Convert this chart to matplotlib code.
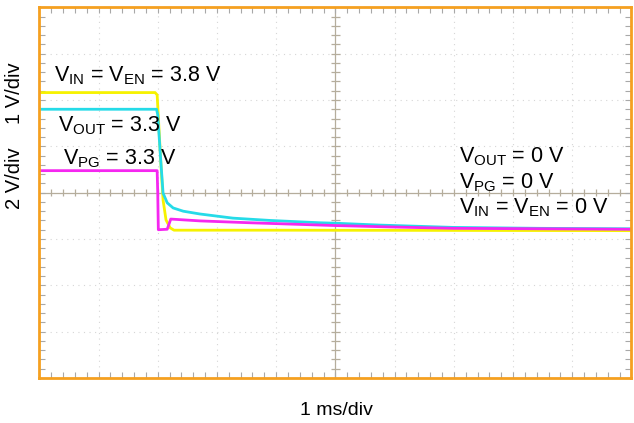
import numpy as np
import matplotlib
matplotlib.use('Agg')
import matplotlib.pyplot as plt

plt.rcParams['font.family'] = ['Liberation Sans', 'DejaVu Sans']
plt.rcParams['mathtext.fontset'] = 'custom'
plt.rcParams['mathtext.rm'] = 'Liberation Sans'
plt.rcParams['mathtext.default'] = 'regular'

# scope traces in divisions (x: 1 ms/div, y: centre = 0)
t_in = [0.0, 1.955, 1.99, 2.05, 2.09, 2.14, 2.21, 2.275, 4.0, 10.0]
v_in = [2.16, 2.16, 2.11, 0.70, -0.16, -0.59, -0.76, -0.81, -0.81, -0.82]

t_out = [0.0, 1.98, 2.0, 2.05, 2.09, 2.16, 2.26, 2.43, 2.71, 3.27, 3.90,
         4.74, 5.0, 5.75, 6.99, 8.46, 10.0]
v_out = [1.80, 1.80, 1.68, 0.71, -0.01, -0.22, -0.33, -0.40, -0.46, -0.55,
         -0.60, -0.65, -0.66, -0.70, -0.75, -0.77, -0.78]

t_pg = [0.0, 1.99, 2.0, 2.01, 2.16, 2.22, 2.72, 3.56, 5.0, 5.93, 6.99, 10.0]
v_pg = [0.475, 0.475, 0.0, -0.80, -0.79, -0.57, -0.61, -0.65, -0.71, -0.74,
        -0.77, -0.79]

traces = [
    (t_in, v_in, '#f6f200'),
    (t_out, v_out, '#25dbe8'),
    (t_pg, v_pg, '#f527f0'),
]

labels = [
    (0.25, 2.41, r'$V_{IN}$ = $V_{EN}$ = 3.8 V'),
    (0.32, 1.33, r'$V_{OUT}$ = 3.3 V'),
    (0.40, 0.60, r'$V_{PG}$ = 3.3 V'),
    (7.09, 0.66, r'$V_{OUT}$ = 0 V'),
    (7.09, 0.10, r'$V_{PG}$ = 0 V'),
    (7.09, -0.44, r'$V_{IN}$ = $V_{EN}$ = 0 V'),
]

fig = plt.figure(figsize=(6.34, 4.23), dpi=100)
ax = fig.add_axes([0.062, 0.1064, 0.934, 0.8763])
ax.set_xlim(0, 10)
ax.set_ylim(-4, 4)

# dotted graticule
for x in range(1, 10):
    if x != 5:
        ax.axvline(x, color='#d6d6d6', lw=0.8, ls=(0, (1, 4)), zorder=0)
for y in range(-3, 4):
    if y != 0:
        ax.axhline(y, color='#d6d6d6', lw=0.8, ls=(0, (1, 4)), zorder=0)

# centre axes with small ticks
ax.axhline(0, color='#b5ad9c', lw=0.9, zorder=0)
ax.axvline(5, color='#b5ad9c', lw=0.9, zorder=0)
ax.vlines(np.arange(0.2, 10, 0.2), -0.08, 0.08, color='#b5ad9c', lw=0.9, zorder=0)
ax.hlines(np.arange(-3.8, 4, 0.2), 4.93, 5.07, color='#b5ad9c', lw=0.9, zorder=0)

for t, v, c in traces:
    ax.plot(t, v, color=c, lw=2.0, zorder=2)

for x, y, s in labels:
    ax.text(x, y, s, fontsize=15.5, ha='left', va='baseline', zorder=3)

ax.set_xticks(np.arange(0, 10.01, 0.2))
ax.set_yticks(np.arange(-4, 4.01, 0.2))
ax.tick_params(direction='in', length=4, width=0.8, color='#a8a8a8',
               top=True, right=True, labelleft=False, labelbottom=False)
for sp in ax.spines.values():
    sp.set_color('#f5a020')
    sp.set_linewidth(2)

fig.text(14 / 634, 1 - 93 / 423, '1 V/div', rotation=90, fontsize=14.5,
         ha='center', va='center')
fig.text(14 / 634, 1 - 178 / 423, '2 V/div', rotation=90, fontsize=14.5,
         ha='center', va='center')
fig.text(336 / 634, 1 - 410 / 423, '1 ms/div', fontsize=14,
         ha='center', va='center')

fig.savefig('out.png', dpi=100)
